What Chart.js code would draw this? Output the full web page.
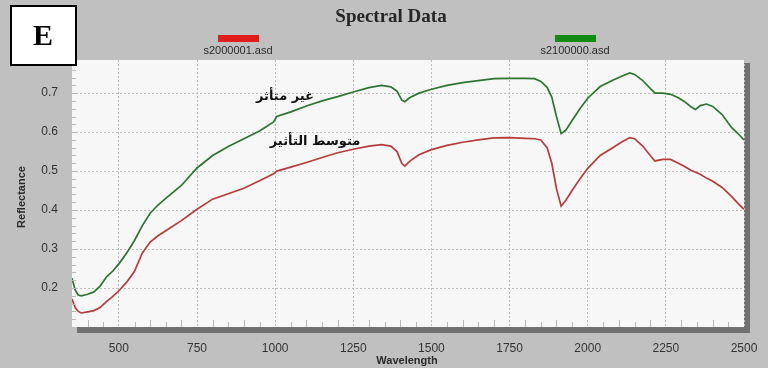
<!DOCTYPE html>
<html>
<head>
<meta charset="utf-8">
<script src="https://cdn.jsdelivr.net/npm/chart.js@4.4.1/dist/chart.umd.min.js"></script>
<style>
  html, body { margin: 0; padding: 0; background: #c0c0c0; }
  #wrap { width: 768px; height: 368px; }
</style>
</head>
<body>
<div id="wrap"><canvas id="c" width="768" height="368"></canvas></div>
<script>
// Wavelength samples (nm)
const wavelengths = [350, 360, 370, 380, 400, 420, 440, 460, 480, 500, 525, 550, 575, 600, 625, 650, 700, 750, 800, 850, 900, 950, 995, 1005, 1050, 1100, 1150, 1200, 1250, 1300, 1340, 1370, 1390, 1405, 1415, 1430, 1460, 1500, 1550, 1600, 1650, 1700, 1750, 1800, 1830, 1850, 1870, 1885, 1900, 1915, 1930, 1950, 1975, 2000, 2040, 2080, 2110, 2135, 2150, 2175, 2200, 2215, 2240, 2265, 2290, 2310, 2330, 2345, 2360, 2380, 2400, 2430, 2460, 2480, 2500];

// s2000001.asd — moderately affected sample
const reflectanceAffected = [0.172, 0.150, 0.140, 0.136, 0.139, 0.142, 0.150, 0.165, 0.178, 0.193, 0.215, 0.243, 0.290, 0.318, 0.334, 0.347, 0.373, 0.402, 0.428, 0.442, 0.456, 0.475, 0.493, 0.500, 0.510, 0.522, 0.535, 0.547, 0.556, 0.564, 0.568, 0.564, 0.550, 0.520, 0.513, 0.525, 0.542, 0.555, 0.566, 0.574, 0.580, 0.585, 0.586, 0.584, 0.583, 0.580, 0.560, 0.520, 0.455, 0.410, 0.425, 0.450, 0.480, 0.507, 0.540, 0.560, 0.575, 0.586, 0.583, 0.565, 0.540, 0.526, 0.530, 0.530, 0.520, 0.512, 0.502, 0.497, 0.492, 0.482, 0.474, 0.458, 0.435, 0.418, 0.402];

// s2100000.asd — unaffected sample
const reflectanceUnaffected = [0.225, 0.195, 0.182, 0.180, 0.184, 0.190, 0.205, 0.228, 0.243, 0.262, 0.290, 0.322, 0.360, 0.392, 0.413, 0.430, 0.463, 0.508, 0.540, 0.563, 0.583, 0.603, 0.626, 0.640, 0.652, 0.667, 0.680, 0.691, 0.703, 0.714, 0.720, 0.716, 0.705, 0.682, 0.678, 0.688, 0.700, 0.710, 0.720, 0.727, 0.732, 0.737, 0.738, 0.738, 0.737, 0.730, 0.715, 0.690, 0.640, 0.596, 0.605, 0.630, 0.660, 0.687, 0.717, 0.733, 0.744, 0.752, 0.748, 0.733, 0.712, 0.700, 0.700, 0.697, 0.688, 0.678, 0.665, 0.658, 0.668, 0.672, 0.666, 0.645, 0.612, 0.597, 0.580];

const seriesNames = ['s2000001.asd', 's2100000.asd'];
const seriesColors = ['#e01e1e', '#138a13'];
const lineColors = ['#b43c3c', '#2c7430'];
const xTickValues = [500, 750, 1000, 1250, 1500, 1750, 2000, 2250, 2500];
const yTickValues = [0.2, 0.3, 0.4, 0.5, 0.6, 0.7];
const chartTitle = 'Spectral Data';
const panelLetter = 'E';
const xAxisTitle = 'Wavelength';
const yAxisTitle = 'Reflectance';
const noteUnaffected = 'غير متأثر';
const noteAffected = 'متوسط التأثير';

const toPoints = vals => wavelengths.map((w, i) => ({ x: w, y: vals[i] }));

const decor = {
  id: 'decor',
  beforeDraw(chart) {
    const { ctx, chartArea: a } = chart;
    ctx.save();
    ctx.fillStyle = '#c0c0c0';
    ctx.fillRect(0, 0, chart.width, chart.height);
    // plot frame shadow
    ctx.fillStyle = '#707070';
    ctx.fillRect(a.left + 5, a.bottom, a.right - a.left + 1, 6);
    ctx.fillRect(a.right, a.top + 3, 6, a.bottom - a.top + 3);
    ctx.fillStyle = '#f7f7f7';
    ctx.fillRect(a.left, a.top, a.right - a.left, a.bottom - a.top);
    ctx.restore();
  },
  afterDatasetsDraw(chart) {
    const { ctx, chartArea: a, scales } = chart;
    const xs = scales.x, ys = scales.y;
    ctx.save();
    // minor ticks along the bottom and left edges
    ctx.strokeStyle = '#b8b8b8';
    ctx.lineWidth = 1;
    for (let w = 400; w < 2500; w += 50) {
      if (w % 250 === 0) continue;
      const px = Math.round(xs.getPixelForValue(w)) + 0.5;
      const len = (w % 100 === 0) ? 7 : 5;
      ctx.beginPath();
      ctx.moveTo(px, a.bottom);
      ctx.lineTo(px, a.bottom - len);
      ctx.stroke();
    }
    for (let v = 0.12; v < 0.78; v += 0.02) {
      const py = Math.round(ys.getPixelForValue(v)) + 0.5;
      ctx.beginPath();
      ctx.moveTo(a.left, py);
      ctx.lineTo(a.left + 4, py);
      ctx.stroke();
    }
    ctx.restore();
  },
  afterDraw(chart) {
    const { ctx } = chart;
    ctx.save();
    // panel letter box
    ctx.fillStyle = '#ffffff';
    ctx.fillRect(10, 5, 67, 61);
    ctx.strokeStyle = '#000000';
    ctx.lineWidth = 2;
    ctx.strokeRect(11, 6, 65, 59);
    ctx.fillStyle = '#000000';
    ctx.font = 'bold 30px "Liberation Serif", "Times New Roman", serif';
    ctx.textAlign = 'center';
    ctx.textBaseline = 'middle';
    ctx.fillText(panelLetter, 43, 37);

    // title
    ctx.fillStyle = '#262626';
    ctx.font = 'bold 19px "Liberation Serif", "Times New Roman", serif';
    ctx.fillText(chartTitle, 391, 17);

    // legend
    const legendX = [238, 575];
    ctx.font = '11px "Liberation Sans", Arial, sans-serif';
    chart.data.datasets.forEach((ds, i) => {
      ctx.fillStyle = seriesColors[i];
      ctx.fillRect(legendX[i] - 20, 35, 41, 7);
      ctx.fillStyle = '#2a2a2a';
      ctx.fillText(ds.label, legendX[i], 51);
    });

    // axis titles
    ctx.fillStyle = '#2a2a2a';
    ctx.font = 'bold 11px "Liberation Sans", Arial, sans-serif';
    ctx.fillText(xAxisTitle, 407, 361);
    ctx.save();
    ctx.translate(22, 197);
    ctx.rotate(-Math.PI / 2);
    ctx.fillText(yAxisTitle, 0, 0);
    ctx.restore();

    // annotations
    ctx.fillStyle = '#111111';
    ctx.font = 'bold 13px "DejaVu Sans", sans-serif';
    ctx.fillText(noteUnaffected, 285, 97);
    ctx.fillText(noteAffected, 315, 142);
    ctx.restore();
  }
};

const gridStyle = { color: '#bcbcbc', drawTicks: false, lineWidth: 1 };
const borderStyle = { display: false, dash: [2, 2] };
const tickFont = { size: 12, family: '"Liberation Sans", Arial, sans-serif' };

new Chart(document.getElementById('c'), {
  type: 'line',
  data: {
    datasets: [
      { label: seriesNames[0], data: toPoints(reflectanceAffected), borderColor: lineColors[0], borderWidth: 1.7, pointRadius: 0, tension: 0 },
      { label: seriesNames[1], data: toPoints(reflectanceUnaffected), borderColor: lineColors[1], borderWidth: 1.7, pointRadius: 0, tension: 0 }
    ]
  },
  options: {
    responsive: false,
    animation: false,
    devicePixelRatio: 1,
    layout: { padding: { top: 60, right: 24, left: 0, bottom: 0 } },
    plugins: { legend: { display: false }, title: { display: false }, tooltip: { enabled: false } },
    scales: {
      x: {
        type: 'linear',
        min: 350,
        max: 2500,
        afterBuildTicks: s => { s.ticks = xTickValues.map(v => ({ value: v })); },
        afterFit: s => { s.height = 41; s.paddingLeft = 0; s.paddingRight = 0; },
        border: borderStyle,
        grid: gridStyle,
        ticks: { padding: 14, color: '#333333', font: tickFont, maxRotation: 0, autoSkip: false, callback: v => String(v) }
      },
      y: {
        min: 0.1,
        max: 0.785,
        afterBuildTicks: s => { s.ticks = yTickValues.map(v => ({ value: v })); },
        afterFit: s => { s.width = 72; s.paddingTop = 0; s.paddingBottom = 0; },
        border: borderStyle,
        grid: gridStyle,
        ticks: { padding: 14, color: '#333333', font: tickFont, callback: v => v.toFixed(1) }
      }
    }
  },
  plugins: [decor]
});
</script>
</body>
</html>
